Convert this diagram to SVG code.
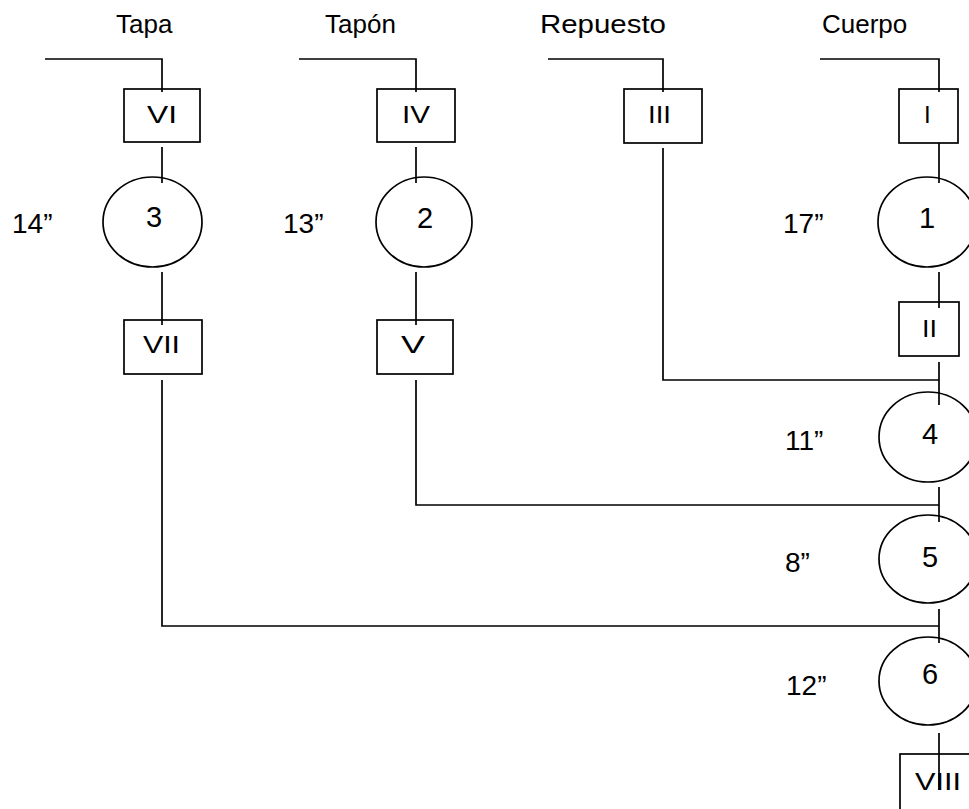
<svg xmlns="http://www.w3.org/2000/svg" width="969" height="809" viewBox="0 0 969 809">
<style>
.ln{stroke:#000;stroke-width:1.7;fill:none}
.bx{stroke:#000;stroke-width:1.7;fill:none}
.el{stroke:#000;stroke-width:1.7;fill:none}
text{font-family:"Liberation Sans",Arial,sans-serif;fill:#000}
.hd{font-size:26px}
.bt{font-size:24px}
.nm{font-size:29px;text-anchor:middle}
.tm{font-size:28px}
</style>
<rect width="969" height="809" fill="#fff"/>
<g id="headers">
<text class="hd" x="116" y="33">Tapa</text>
<text class="hd" x="325" y="33">Tapón</text>
<text class="hd" x="540" y="33" textLength="126" lengthAdjust="spacingAndGlyphs">Repuesto</text>
<text class="hd" x="822" y="33">Cuerpo</text>
</g>
<g id="connectors">
<path class="ln" d="M45,59H162V92M162,147V183M162,272V325M162,380V626H939"/>
<path class="ln" d="M299,59H416V92M416,147V183M416,272V325M416,380V505H939"/>
<path class="ln" d="M548,59H663V92M663,148V380H939"/>
<path class="ln" d="M820,59H939V92M939,143V183M939,272V308M939,362V405M939,487V522M939,609V643M939,733V790"/>
</g>
<g id="VI"><rect class="bx" x="124" y="89" width="76" height="53"/><text class="bt" x="147" y="123" textLength="30" lengthAdjust="spacingAndGlyphs">VI</text></g>
<g id="IV"><rect class="bx" x="377" y="89" width="78" height="53"/><text class="bt" x="402" y="123" textLength="28" lengthAdjust="spacingAndGlyphs">IV</text></g>
<g id="III"><rect class="bx" x="624" y="89" width="78" height="54"/><text class="bt" x="648" y="123" textLength="23" lengthAdjust="spacingAndGlyphs">III</text></g>
<g id="I"><rect class="bx" x="899" y="89" width="59" height="54"/><text class="bt" x="924" y="123">I</text></g>
<g id="n3"><ellipse class="el" cx="152.5" cy="222" rx="49.5" ry="45"/><text class="nm" x="154" y="227">3</text></g>
<g id="n2"><ellipse class="el" cx="424" cy="222" rx="48" ry="45"/><text class="nm" x="425" y="228">2</text></g>
<g id="n1"><ellipse class="el" cx="927" cy="222" rx="49" ry="45"/><text class="nm" x="927" y="228">1</text></g>
<g id="VII"><rect class="bx" x="124" y="320" width="78" height="54"/><text class="bt" x="143" y="353" textLength="37" lengthAdjust="spacingAndGlyphs">VII</text></g>
<g id="V"><rect class="bx" x="377" y="320" width="76" height="54"/><text class="bt" x="401" y="353" textLength="24" lengthAdjust="spacingAndGlyphs">V</text></g>
<g id="II"><rect class="bx" x="899" y="302" width="60" height="54"/><text class="bt" x="922" y="337" textLength="15" lengthAdjust="spacingAndGlyphs">II</text></g>
<g id="n4"><ellipse class="el" cx="928" cy="437" rx="49" ry="45"/><text class="nm" x="930" y="444">4</text></g>
<g id="n5"><ellipse class="el" cx="928" cy="559" rx="49" ry="44"/><text class="nm" x="930" y="567">5</text></g>
<g id="n6"><ellipse class="el" cx="928" cy="681" rx="49" ry="44"/><text class="nm" x="930" y="684">6</text></g>
<g id="VIII"><rect class="bx" x="900" y="754" width="80" height="60"/><text class="bt" x="915" y="790" textLength="46" lengthAdjust="spacingAndGlyphs">VIII</text></g>
<g id="times">
<text class="tm" x="12" y="233">14”</text>
<text class="tm" x="283" y="233">13”</text>
<text class="tm" x="783" y="233">17”</text>
<text class="tm" x="785" y="450">11”</text>
<text class="tm" x="785" y="572">8”</text>
<text class="tm" x="786" y="695">12”</text>
</g>
</svg>
